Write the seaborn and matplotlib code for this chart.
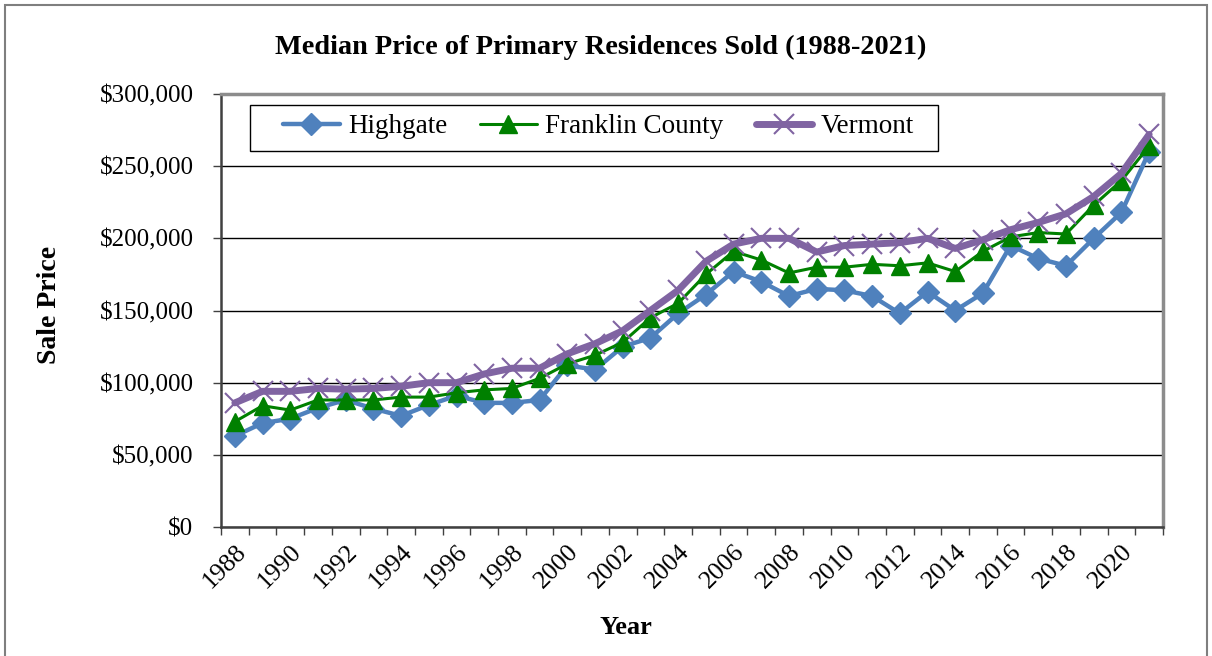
import matplotlib
matplotlib.use("Agg")
import matplotlib.pyplot as plt
import seaborn as sns
import pandas as pd
import numpy as np
from matplotlib.patches import Rectangle
from matplotlib.ticker import FuncFormatter, FixedLocator

years = list(range(1988, 2022))
highgate = [63000, 72000, 75000, 82500, 88000, 82000, 77000, 84500, 91000, 86000,
            86000, 88000, 112000, 109000, 125000, 131000, 148000, 161000, 177000, 170000,
            160000, 165000, 164000, 160000, 148000, 163000, 150000, 162000, 195000, 186000,
            181000, 200000, 218000, 260000]
franklin = [73000, 84000, 81000, 88000, 88000, 88000, 90000, 90000, 93000, 95000,
            96000, 103000, 113000, 119000, 128000, 145000, 155000, 175000, 191000, 185000,
            176000, 180000, 180000, 182000, 181000, 183000, 177000, 191000, 201000, 204000,
            203000, 223000, 240000, 264000]
vermont = [86000, 94000, 94000, 96000, 95500, 96000, 97500, 100000, 100000, 106000,
           110000, 110000, 120000, 127000, 136000, 150000, 164000, 184000, 196000, 200000,
           200000, 190500, 195000, 196000, 197000, 200000, 193000, 199000, 206000, 211000,
           217000, 229000, 245000, 272000]
series_names = ["Highgate", "Franklin County", "Vermont"]

df = pd.DataFrame({
    "idx": list(range(len(years))) * 3,
    "price": highgate + franklin + vermont,
    "series": [series_names[0]] * len(years) + [series_names[1]] * len(years) + [series_names[2]] * len(years),
})

sns.set_theme(style="white")
plt.rcParams["font.family"] = ["Liberation Serif", "DejaVu Serif"]

fig = plt.figure(figsize=(12.12, 6.56), dpi=100)
ax = fig.add_axes([221 / 1212, 1 - 527 / 656, (1163 - 221) / 1212, (527 - 94) / 656])

styles = {
    "Highgate": dict(color="#4F81BD", marker="D", lw=3.2, ms=11, mec="#4F81BD"),
    "Franklin County": dict(color="#008000", marker="^", lw=2.2, ms=13, mec="#008000"),
    "Vermont": dict(color="#8064A2", marker="x", lw=5, ms=15, mew=1.5, mec="#8064A2"),
}
for name in series_names:
    sub = df[df["series"] == name]
    st = styles[name]
    sns.lineplot(data=sub, x="idx", y="price", ax=ax, color=st["color"], lw=st["lw"],
                 marker=st["marker"], markersize=st["ms"], markeredgecolor=st["mec"],
                 markeredgewidth=st.get("mew", 1), label=name, zorder=3)

ax.set_xlim(-0.5, len(years) - 0.5)
ax.set_ylim(0, 300000)
ax.set_yticks(np.arange(0, 300001, 50000))
ax.yaxis.set_major_formatter(FuncFormatter(lambda v, p: f"${int(v):,}"))
ax.grid(axis="y", color="black", lw=1)
ax.set_axisbelow(True)

# x ticks: marks at category boundaries, labels at centers
ax.xaxis.set_major_locator(FixedLocator(np.arange(-0.5, len(years), 1.0)))
ax.set_xticklabels([])
ax.xaxis.set_minor_locator(FixedLocator(np.arange(0, len(years), 2)))
ax.set_xticklabels([str(y) for y in years[::2]], minor=True, rotation=45, ha="right",
                   rotation_mode="anchor", fontsize=18.5)
ax.tick_params(axis="x", which="major", direction="out", length=5.5, width=1, color="#404040", bottom=True)
ax.tick_params(axis="x", which="minor", length=0, pad=10)
ax.tick_params(axis="y", direction="out", length=5.8, width=1, color="#404040", left=True,
               labelsize=18, pad=14)
for lab in ax.get_yticklabels():
    lab.set_color("black")
for lab in ax.get_xticklabels(minor=True):
    lab.set_color("black")

for side in ["top", "right"]:
    ax.spines[side].set_color("#8c8c8c")
    ax.spines[side].set_linewidth(2.5)
for side in ["left", "bottom"]:
    ax.spines[side].set_color("#404040")
    ax.spines[side].set_linewidth(1.8)

ax.set_xlabel("Year", fontsize=19, fontweight="bold", color="black")
ax.xaxis.set_label_coords(0.43, -0.205)
ax.set_ylabel("Sale Price", fontsize=20, fontweight="bold", color="black")
ax.yaxis.set_label_coords(-0.169, 0.513)
fig.text(601 / 1212, 1 - 47 / 656, "Median Price of Primary Residences Sold (1988-2021)",
         fontsize=20.3, fontweight="bold", ha="center", va="center", color="black")

# legend frame drawn separately to match the wide padding of the original
ax.add_patch(Rectangle(((250 - 221) / 942, (527 - 151) / 433), 688 / 942, 46 / 433,
                       transform=ax.transAxes, fill=True, facecolor="white",
                       edgecolor="black", lw=1.0, zorder=4))
leg = ax.legend(loc="upper left", bbox_to_anchor=((283 - 221) / 942, (527 - 114) / 433), ncol=3,
                fontsize=19.5, frameon=False, handlelength=2.1,
                columnspacing=1.2, handletextpad=0.3, borderpad=0, borderaxespad=0)
leg.set_zorder(5)
for t in leg.get_texts():
    t.set_color("black")

fig.patches.append(Rectangle((0.004, -0.02), 0.992, 1.013, transform=fig.transFigure,
                             fill=False, edgecolor="#7f7f7f", lw=1.5))

fig.savefig("out.png", dpi=100)
